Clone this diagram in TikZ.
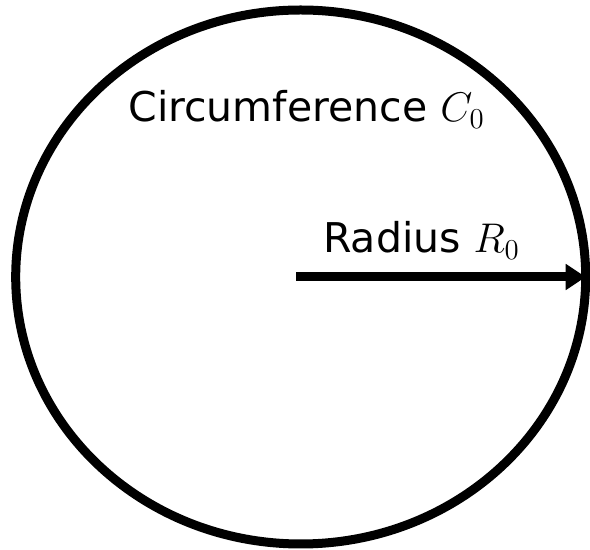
\documentclass[tikz,border=0pt]{standalone}
\usepackage{fontspec}
\setmainfont{DejaVu Sans}
\usepackage{amsmath}
\usepackage{tikz}
\usetikzlibrary{shapes.geometric, arrows.meta, positioning}

\begin{document}
\begin{tikzpicture}[x=0.5pt, y=-0.5pt,
    rim/.style={draw, ellipse, line width=4.5pt, outer sep=0pt, inner sep=0pt},
    radiusarrow/.style={-{Triangle[length=10pt, width=12.5pt]}, line width=4.5pt},
    lbl/.style={anchor=base, font=\fontsize{20.5}{24}\selectfont}]

  % Frame of the picture
  \useasboundingbox (0,0) rectangle (590,550);

  % Circle
  \node[rim, minimum width=285pt, minimum height=267pt] (circ) at (300.7,277) {};

  % Centre point
  \coordinate (O) at (296,277);

  % Radius arrow
  \draw[radiusarrow] (O) -- (circ.east);

  % Labels
  \node[lbl] (circlbl) at (306.5,122) {Circumference $C_0$};
  \node[lbl] (radlbl) at (421.5,253) {Radius $R_0$};

\end{tikzpicture}
\end{document}
